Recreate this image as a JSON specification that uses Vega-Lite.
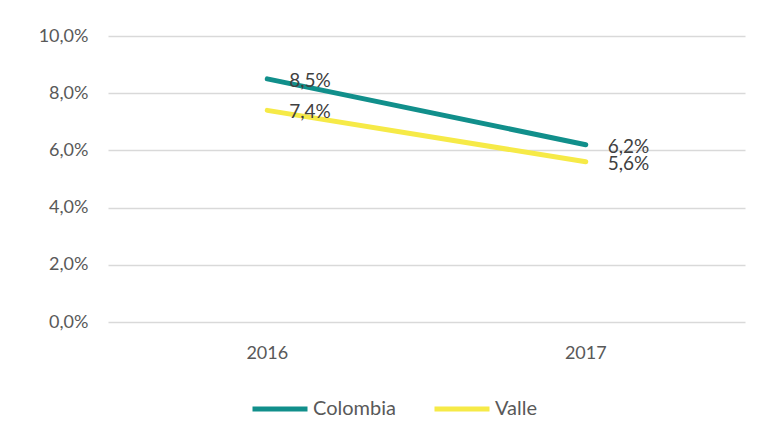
{
  "$schema": "https://vega.github.io/schema/vega-lite/v6.json",
  "width": 637,
  "height": 286,
  "autosize": "none",
  "padding": {"left": 108, "top": 36, "right": 19, "bottom": 118},
  "background": "white",
  "config": {
    "locale": {"number": {"decimal": ",", "thousands": ".", "grouping": [3], "currency": ["", " €"]}},
    "view": {"stroke": null},
    "font": "Lato",
    "axis": {"labelFont": "Lato", "labelFontSize": 18, "labelColor": "#595959"},
    "legend": {"labelFont": "Lato", "labelFontSize": 20, "labelColor": "#595959"}
  },
  "data": {
    "values": [
      {"year": "2016", "serie": "Colombia", "valor": 0.085},
      {"year": "2017", "serie": "Colombia", "valor": 0.062},
      {"year": "2016", "serie": "Valle", "valor": 0.074},
      {"year": "2017", "serie": "Valle", "valor": 0.056}
    ]
  },
  "encoding": {
    "x": {
      "field": "year", "type": "ordinal",
      "scale": {"type": "band", "paddingInner": 0, "paddingOuter": 0},
      "axis": {"title": null, "labelAngle": 0, "ticks": false, "domain": false, "grid": false, "labelPadding": 22}
    },
    "y": {
      "field": "valor", "type": "quantitative",
      "scale": {"domain": [0, 0.1], "nice": false},
      "axis": {
        "title": null, "values": [0, 0.02, 0.04, 0.06, 0.08, 0.1],
        "format": ".1%",
        "ticks": false, "domain": false, "gridColor": "#D9D9D9", "gridWidth": 1.3, "labelPadding": 20
      }
    },
    "color": {
      "field": "serie", "type": "nominal",
      "scale": {"domain": ["Colombia", "Valle"], "range": ["#118F8B", "#F6EA47"]},
      "legend": {
        "title": null, "orient": "none", "direction": "horizontal",
        "legendX": 142, "legendY": 343,
        "symbolType": "stroke", "symbolSize": 3025, "symbolStrokeWidth": 5,
        "labelOffset": 3, "columnPadding": 28
      }
    }
  },
  "layer": [
    {
      "mark": {"type": "line", "strokeWidth": 5, "strokeCap": "round"},
      "encoding": {"detail": {"field": "serie"}}
    },
    {
      "mark": {"type": "text", "align": "left", "baseline": "middle", "dx": 22, "dy": 2, "fontSize": 19, "font": "Lato", "color": "#404040"},
      "encoding": {
        "text": {"field": "valor", "type": "quantitative", "format": ".1%"},
        "color": {"value": "#404040"}
      }
    }
  ]
}
